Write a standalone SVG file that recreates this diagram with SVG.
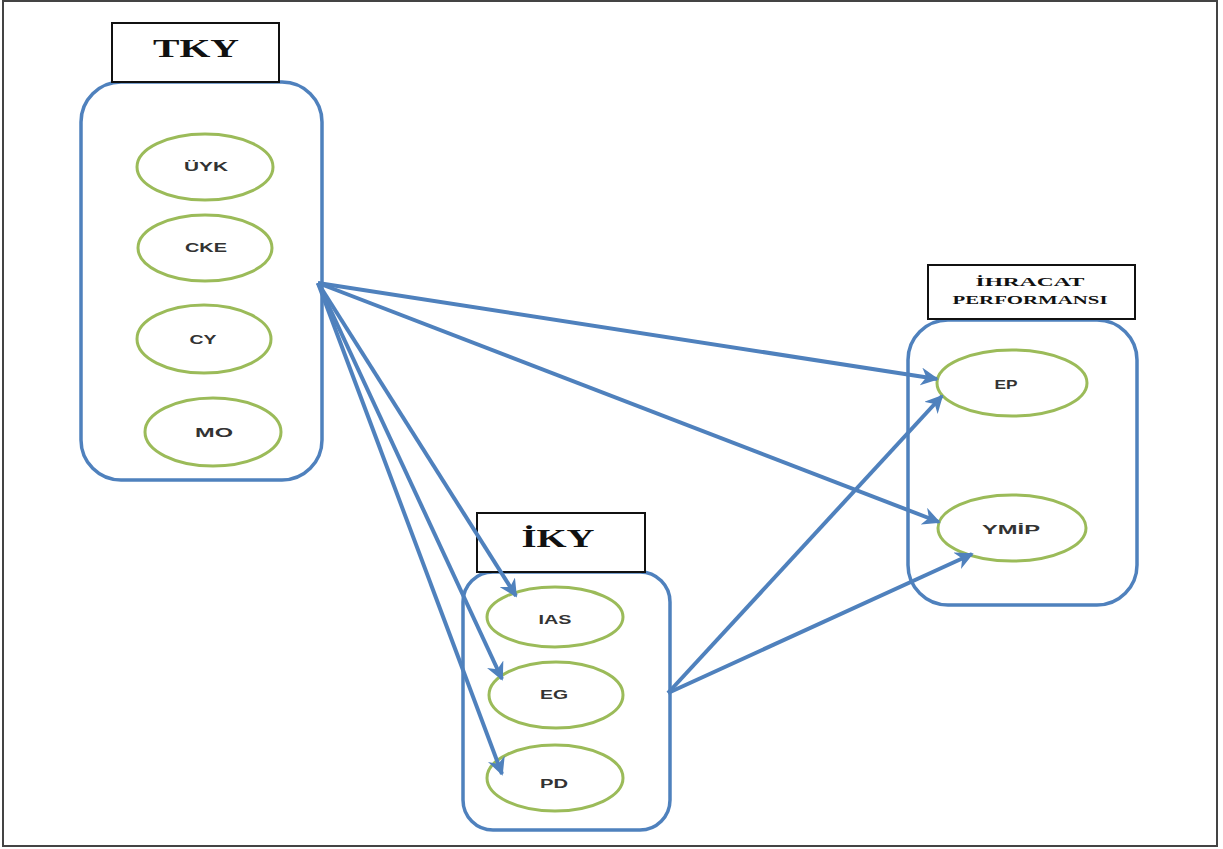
<svg xmlns="http://www.w3.org/2000/svg" width="1223" height="849" viewBox="0 0 1223 849">
  <style>
    .frame { fill: #ffffff; stroke: #444444; stroke-width: 2; }
    .group { fill: #ffffff; stroke: #4f81bd; stroke-width: 3.5; }
    .title { fill: #ffffff; stroke: #111111; stroke-width: 2; }
    .item { fill: #ffffff; stroke: #9bbb59; stroke-width: 3; }
    .ttl { font-family: "Liberation Serif", "Times New Roman", serif; font-weight: bold; fill: #111111; text-anchor: middle; }
    .lbl { font-family: "Liberation Sans", Arial, sans-serif; font-size: 13px; font-weight: bold; fill: #333333; text-anchor: middle; }
    .conn { stroke: #4f81bd; stroke-width: 4; fill: none; marker-end: url(#arr); }
  </style>
  <defs>
    <marker id="arr" viewBox="0 0 10 10" refX="9" refY="5" markerWidth="4.5" markerHeight="4.5" orient="auto" markerUnits="strokeWidth">
      <path d="M0,0 L10,5 L0,10 L3,5 Z" fill="#4f81bd"/>
    </marker>
  </defs>

  <rect class="frame" x="3" y="1" width="1214" height="845"/>

  <!-- TKY group -->
  <g id="tky">
    <rect class="group" x="81" y="82" width="241" height="398" rx="40" ry="40"/>
    <rect class="title" x="112" y="23" width="167" height="59"/>
    <text class="ttl" x="196" y="57" font-size="26" textLength="86" lengthAdjust="spacingAndGlyphs">TKY</text>
  </g>
  <g id="uyk">
    <ellipse class="item" cx="205" cy="167" rx="68" ry="33"/>
    <text class="lbl" x="206" y="171" textLength="44" lengthAdjust="spacingAndGlyphs">ÜYK</text>
  </g>
  <g id="cke">
    <ellipse class="item" cx="205" cy="248" rx="67" ry="33"/>
    <text class="lbl" x="206" y="252" textLength="42" lengthAdjust="spacingAndGlyphs">CKE</text>
  </g>
  <g id="cy">
    <ellipse class="item" cx="204" cy="339" rx="67" ry="34"/>
    <text class="lbl" x="203" y="344" textLength="27" lengthAdjust="spacingAndGlyphs">CY</text>
  </g>
  <g id="mo">
    <ellipse class="item" cx="213" cy="432" rx="68" ry="34"/>
    <text class="lbl" x="214" y="437" textLength="38" lengthAdjust="spacingAndGlyphs">MO</text>
  </g>

  <!-- IKY group -->
  <g id="iky">
    <rect class="group" x="463" y="572" width="207" height="258" rx="30" ry="30"/>
    <rect class="title" x="477" y="513" width="168" height="59"/>
    <text class="ttl" x="558" y="547" font-size="26" textLength="73" lengthAdjust="spacingAndGlyphs">İKY</text>
  </g>
  <g id="ias">
    <ellipse class="item" cx="555" cy="617" rx="68" ry="30"/>
    <text class="lbl" x="555" y="624" textLength="33" lengthAdjust="spacingAndGlyphs">IAS</text>
  </g>
  <g id="eg">
    <ellipse class="item" cx="556" cy="695" rx="67" ry="33"/>
    <text class="lbl" x="554" y="699" textLength="28" lengthAdjust="spacingAndGlyphs">EG</text>
  </g>
  <g id="pd">
    <ellipse class="item" cx="555" cy="778" rx="68" ry="33"/>
    <text class="lbl" x="554" y="788" textLength="28" lengthAdjust="spacingAndGlyphs">PD</text>
  </g>

  <!-- Export performance group -->
  <g id="ihracat">
    <rect class="group" x="908" y="320" width="229" height="285" rx="40" ry="40"/>
    <rect class="title" x="928" y="265" width="207" height="54"/>
    <text class="ttl" x="1030" y="286" font-size="12" textLength="109" lengthAdjust="spacingAndGlyphs">İHRACAT</text>
    <text class="ttl" x="1030" y="304" font-size="12" textLength="155" lengthAdjust="spacingAndGlyphs">PERFORMANSI</text>
  </g>
  <g id="ep">
    <ellipse class="item" cx="1012" cy="383" rx="75" ry="33"/>
    <text class="lbl" x="1006" y="389" textLength="23" lengthAdjust="spacingAndGlyphs">EP</text>
  </g>
  <g id="ymip">
    <ellipse class="item" cx="1012" cy="528" rx="74" ry="33"/>
    <text class="lbl" x="1011" y="534" textLength="58" lengthAdjust="spacingAndGlyphs">YMİP</text>
  </g>

  <!-- Connectors -->
  <g id="connectors">
    <line class="conn" x1="318" y1="283" x2="937" y2="379"/>
    <line class="conn" x1="318" y1="283" x2="939" y2="522"/>
    <line class="conn" x1="318" y1="283" x2="516" y2="596"/>
    <line class="conn" x1="318" y1="283" x2="502" y2="679"/>
    <line class="conn" x1="318" y1="283" x2="502" y2="774"/>
    <line class="conn" x1="668" y1="693" x2="942" y2="396"/>
    <line class="conn" x1="668" y1="693" x2="972" y2="554"/>
  </g>
</svg>
